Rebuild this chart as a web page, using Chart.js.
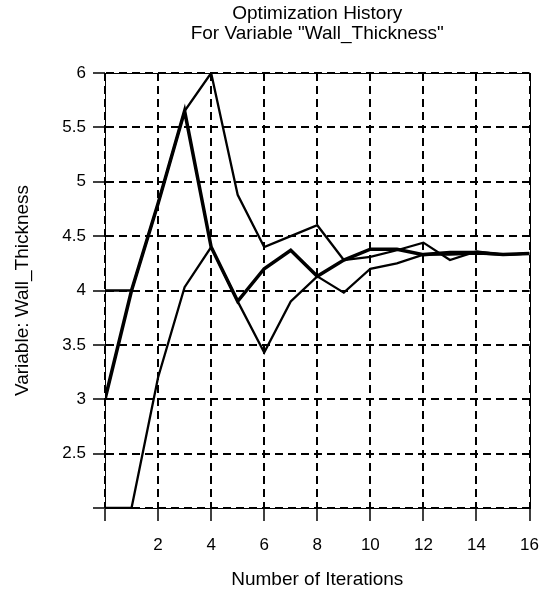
<!DOCTYPE html>
<html lang="en">
<head>
    <meta charset="UTF-8">
    <title>Optimization History</title>
    <script src="https://cdn.jsdelivr.net/npm/chart.js"></script>
    <style>
        body {
            margin: 0;
            padding: 0;
            background: #fff;
        }
        .chart-box {
            width: 553px;
            height: 596px;
        }
    </style>
</head>
<body>
    <div class="chart-box">
        <canvas id="historyChart" width="553" height="596"></canvas>
    </div>
    <script>
        const iterations = [0, 1, 2, 3, 4, 5, 6, 7, 8, 9, 10, 11, 12, 13, 14, 15, 16];
        const upperRun = [4, 4, 4.8, 5.65, 6.0, 4.88, 4.4, 4.5, 4.6, 4.28, 4.31, 4.37, 4.44, 4.28, 4.36, 4.33, 4.34];
        const middleRun = [3, 4, 4.8, 5.65, 4.4, 3.9, 4.2, 4.37, 4.13, 4.28, 4.38, 4.38, 4.33, 4.35, 4.35, 4.33, 4.34];
        const lowerRun = [2, 2, 3.2, 4.03, 4.4, 3.9, 3.43, 3.9, 4.13, 3.98, 4.2, 4.25, 4.33, 4.33, 4.34, 4.33, 4.34];
        const xTicks = [2, 4, 6, 8, 10, 12, 14, 16];

        const family = "'Liberation Sans', Arial, sans-serif";
        const tickFont = { family: family, size: 17 };
        const titleFont = { family: family, size: 19, lineHeight: 1.2 };

        function points(values) {
            return iterations.map((it, i) => ({ x: it, y: values[i] }));
        }

        // solid frame around the plot (top and right edges)
        const frame = {
            id: 'frame',
            afterDraw(chart) {
                const a = chart.chartArea;
                const ctx = chart.ctx;
                ctx.save();
                ctx.strokeStyle = '#000';
                ctx.lineWidth = 1;
                ctx.beginPath();
                ctx.moveTo(a.left, Math.round(a.top) + 0.5);
                ctx.lineTo(a.right, Math.round(a.top) + 0.5);
                ctx.moveTo(Math.round(a.right) + 0.5, a.top);
                ctx.lineTo(Math.round(a.right) + 0.5, a.bottom);
                ctx.stroke();
                ctx.restore();
            }
        };

        const ctx = document.getElementById('historyChart').getContext('2d');
        new Chart(ctx, {
            type: 'line',
            data: {
                datasets: [
                    { data: points(upperRun), borderColor: '#000', borderWidth: 2.3, pointRadius: 0, tension: 0 },
                    { data: points(lowerRun), borderColor: '#000', borderWidth: 2.3, pointRadius: 0, tension: 0 },
                    { data: points(middleRun), borderColor: '#000', borderWidth: 3.5, pointRadius: 0, tension: 0 }
                ]
            },
            options: {
                responsive: false,
                animation: false,
                layout: { padding: { left: 0, right: 23, top: 0, bottom: 0 } },
                plugins: {
                    legend: { display: false },
                    tooltip: { enabled: false },
                    title: {
                        display: true,
                        fullSize: false,
                        text: ['Optimization History', 'For Variable "Wall_Thickness"'],
                        color: '#000',
                        font: { family: family, size: 19, weight: 'normal', lineHeight: 1.05 },
                        padding: { top: 3.5, bottom: 29.6 }
                    }
                },
                scales: {
                    x: {
                        type: 'linear',
                        min: 0,
                        max: 16,
                        afterBuildTicks: s => { s.ticks = [0].concat(xTicks).map(v => ({ value: v })); },
                        afterFit: s => { s.height = 88; },
                        ticks: {
                            color: '#000',
                            font: tickFont,
                            padding: 14,
                            maxRotation: 0,
                            callback: v => (v === 0 ? '' : v)
                        },
                        grid: { color: '#000', lineWidth: 2, tickLength: 13, tickWidth: 1.5, tickBorderDash: [] },
                        border: { display: true, color: '#000', width: 1, dash: [8, 5] },
                        title: {
                            display: true,
                            text: 'Number of Iterations',
                            color: '#000',
                            font: titleFont,
                            padding: { top: 4, bottom: 5 }
                        }
                    },
                    y: {
                        min: 2,
                        max: 6,
                        afterFit: s => { s.width = 105; },
                        ticks: {
                            stepSize: 0.5,
                            color: '#000',
                            font: tickFont,
                            padding: 7,
                            callback: v => (v === 2 ? '' : v)
                        },
                        grid: { color: '#000', lineWidth: 2, tickLength: 12, tickWidth: 1.5, tickBorderDash: [] },
                        border: { display: true, color: '#000', width: 1, dash: [8, 5] },
                        title: {
                            display: true,
                            text: 'Variable: Wall_Thickness',
                            color: '#000',
                            font: titleFont,
                            padding: { top: 11, bottom: 4 }
                        }
                    }
                }
            },
            plugins: [frame]
        });
    </script>
</body>
</html>
